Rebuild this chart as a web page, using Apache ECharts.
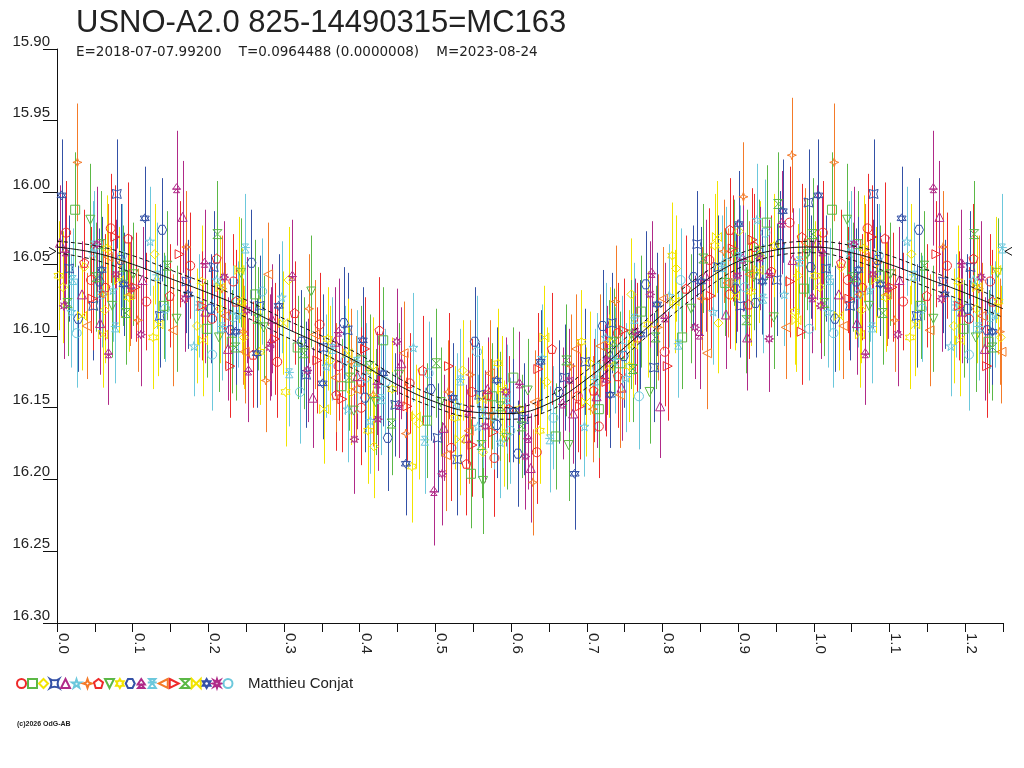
<!DOCTYPE html>
<html>
<head>
<meta charset="utf-8">
<script src="https://cdn.jsdelivr.net/npm/echarts@6/dist/echarts.min.js"></script>
<style>
  html, body { margin: 0; padding: 0; background: #fff; }
  #chart { width: 1024px; height: 768px; }
</style>
</head>
<body>
<div id="chart"></div>
<script>
// Phase diagram of USNO-A2.0 825-14490315 (MC163).
// Each observation: [phase, magnitude, error]. One array per symbol set.

const s00 = [[0.012,16.028,0.036],[0.071,16.025,0.038],[0.118,16.076,0.034],[0.176,16.051,0.037],[0.233,16.062,0.033],[0.291,16.118,0.039],[0.347,16.092,0.036],[0.402,16.150,0.040],[0.466,16.133,0.035],[0.521,16.178,0.037],[0.578,16.185,0.041],[0.634,16.181,0.036],[0.688,16.142,0.039],[0.741,16.098,0.035],[0.803,16.111,0.038],[0.862,16.047,0.036],[0.921,16.038,0.037],[0.968,16.021,0.039],
  [0.045,16.061,0.037],[0.205,16.088,0.036],[0.372,16.121,0.038],[0.548,16.139,0.037],[0.716,16.163,0.036],[0.889,16.071,0.038]];
const s01 = [[0.024,16.012,0.040],[0.087,16.058,0.035],[0.141,16.079,0.037],[0.198,16.095,0.034],[0.262,16.071,0.038],[0.318,16.108,0.036],[0.376,16.135,0.033],[0.431,16.103,0.037],[0.489,16.159,0.040],[0.547,16.196,0.038],[0.603,16.129,0.035],[0.659,16.170,0.037],[0.716,16.151,0.034],[0.772,16.083,0.039],[0.826,16.101,0.036],[0.883,16.063,0.037],[0.938,16.021,0.040],[0.987,16.067,0.035],
  [0.058,16.036,0.037],[0.231,16.104,0.036],[0.402,16.117,0.038],[0.575,16.142,0.037],[0.744,16.119,0.036],[0.912,16.051,0.039]];
const s02 = [[0.008,16.066,0.039],[0.063,16.082,0.037],[0.129,16.043,0.035],[0.185,16.093,0.040],[0.247,16.101,0.036],[0.306,16.061,0.037],[0.361,16.117,0.038],[0.419,16.177,0.036],[0.478,16.161,0.039],[0.536,16.124,0.035],[0.591,16.168,0.037],[0.647,16.132,0.038],[0.704,16.119,0.036],[0.759,16.071,0.039],[0.818,16.053,0.037],[0.874,16.091,0.035],[0.929,16.044,0.038],[0.979,16.058,0.036],
  [0.036,16.052,0.036],[0.215,16.081,0.038],[0.389,16.139,0.037],[0.563,16.181,0.036],[0.731,16.104,0.038],[0.901,16.027,0.037]];
const s03 = [[0.016,16.053,0.037],[0.079,16.001,0.038],[0.136,16.086,0.036],[0.207,16.052,0.039],[0.268,16.079,0.035],[0.329,16.127,0.037],[0.384,16.096,0.040],[0.447,16.148,0.036],[0.503,16.171,0.038],[0.558,16.141,0.036],[0.617,16.158,0.039],[0.671,16.129,0.037],[0.733,16.091,0.035],[0.789,16.122,0.038],[0.846,16.036,0.037],[0.903,16.079,0.036],[0.951,16.061,0.039],[0.993,16.007,0.037],
  [0.048,16.079,0.038],[0.171,16.062,0.036],[0.352,16.108,0.037],[0.529,16.186,0.039],[0.698,16.118,0.037],[0.874,16.052,0.036]];
const s04 = [[0.004,16.035,0.040],[0.057,16.091,0.036],[0.113,16.061,0.037],[0.166,16.017,0.039],[0.226,16.109,0.036],[0.284,16.088,0.038],[0.338,16.143,0.035],[0.397,16.128,0.037],[0.455,16.119,0.039],[0.511,16.164,0.037],[0.569,16.137,0.036],[0.626,16.192,0.038],[0.682,16.154,0.035],[0.746,16.136,0.037],[0.797,16.149,0.036],[0.857,16.058,0.039],[0.912,16.101,0.037],[0.972,16.047,0.036],
  [0.033,16.071,0.037],[0.196,16.083,0.036],[0.367,16.104,0.038],[0.541,16.171,0.037],[0.713,16.142,0.036],[0.884,16.085,0.038]];
const s05 = [[0.019,16.083,0.039],[0.074,16.068,0.036],[0.123,16.034,0.038],[0.181,16.107,0.035],[0.239,16.085,0.037],[0.297,16.073,0.039],[0.356,16.121,0.036],[0.414,16.159,0.037],[0.471,16.108,0.038],[0.529,16.148,0.036],[0.586,16.174,0.039],[0.641,16.115,0.037],[0.697,16.163,0.035],[0.752,16.129,0.038],[0.809,16.072,0.036],[0.867,16.083,0.037],[0.925,16.019,0.039],[0.961,16.071,0.036],
  [0.047,16.042,0.036],[0.211,16.061,0.038],[0.384,16.151,0.037],[0.556,16.163,0.036],[0.725,16.101,0.038],[0.896,16.061,0.037]];
const s06 = [[0.027,15.979,0.041],[0.061,16.071,0.038],[0.107,16.089,0.036],[0.171,16.038,0.039],[0.218,16.067,0.037],[0.276,16.131,0.036],[0.333,16.081,0.038],[0.389,16.118,0.037],[0.461,16.168,0.039],[0.517,16.139,0.036],[0.574,16.154,0.038],[0.629,16.202,0.037],[0.679,16.121,0.036],[0.738,16.076,0.039],[0.794,16.094,0.037],[0.852,16.074,0.036],[0.907,16.003,0.038],[0.971,15.974,0.040],
  [0.084,16.049,0.038],[0.246,16.097,0.037],[0.418,16.141,0.036],[0.546,16.127,0.038],[0.708,16.151,0.037],[0.881,16.041,0.036]];
const s07 = [[0.036,16.049,0.037],[0.094,16.032,0.039],[0.149,16.072,0.036],[0.211,16.046,0.038],[0.259,16.113,0.037],[0.314,16.084,0.036],[0.369,16.141,0.039],[0.426,16.096,0.037],[0.483,16.124,0.038],[0.541,16.189,0.036],[0.597,16.151,0.037],[0.654,16.109,0.039],[0.709,16.138,0.036],[0.767,16.101,0.038],[0.831,16.067,0.037],[0.889,16.026,0.036],[0.944,16.055,0.039],[0.984,16.031,0.037],
  [0.064,16.066,0.037],[0.236,16.076,0.036],[0.402,16.132,0.038],[0.569,16.141,0.037],[0.741,16.128,0.036],[0.914,16.078,0.038]];
const s08 = [[0.044,16.019,0.039],[0.101,16.057,0.036],[0.158,16.088,0.037],[0.214,16.101,0.038],[0.273,16.094,0.036],[0.336,16.069,0.039],[0.392,16.152,0.037],[0.452,16.127,0.036],[0.507,16.146,0.038],[0.563,16.201,0.037],[0.622,16.138,0.036],[0.676,16.176,0.039],[0.729,16.112,0.037],[0.783,16.139,0.036],[0.838,16.081,0.038],[0.894,16.042,0.037],[0.947,16.087,0.036],[0.991,16.043,0.039],
  [0.073,16.079,0.036],[0.243,16.056,0.038],[0.421,16.146,0.037],[0.594,16.171,0.036],[0.759,16.099,0.038],[0.921,16.059,0.037]];
const s09 = [[0.002,16.058,0.038],[0.066,16.039,0.037],[0.127,16.101,0.036],[0.191,16.062,0.039],[0.244,16.076,0.037],[0.302,16.139,0.038],[0.358,16.102,0.036],[0.411,16.166,0.037],[0.469,16.191,0.039],[0.526,16.157,0.036],[0.583,16.119,0.038],[0.638,16.166,0.037],[0.693,16.104,0.036],[0.756,16.121,0.039],[0.813,16.044,0.037],[0.869,16.037,0.036],[0.917,16.069,0.038],[0.975,16.083,0.037],
  [0.095,16.073,0.038],[0.268,16.111,0.037],[0.443,16.137,0.036],[0.611,16.151,0.038],[0.781,16.092,0.037],[0.948,16.037,0.036]];
const s10 = [[0.028,16.088,0.037],[0.084,16.047,0.039],[0.139,16.026,0.036],[0.203,16.081,0.038],[0.257,16.049,0.037],[0.323,16.104,0.036],[0.379,16.091,0.039],[0.437,16.171,0.037],[0.494,16.137,0.036],[0.552,16.104,0.038],[0.609,16.182,0.037],[0.663,16.139,0.036],[0.721,16.093,0.039],[0.778,16.064,0.037],[0.841,16.059,0.036],[0.897,16.067,0.038],[0.955,16.036,0.037],[0.996,16.052,0.036],
  [0.056,16.062,0.037],[0.229,16.096,0.036],[0.407,16.143,0.038],[0.581,16.162,0.037],[0.749,16.114,0.036],[0.923,16.077,0.038]];
const s11 = [[0.011,16.041,0.038],[0.068,16.112,0.036],[0.158,15.997,0.040],[0.195,16.049,0.037],[0.253,16.124,0.036],[0.311,16.058,0.039],[0.372,16.097,0.037],[0.423,16.133,0.036],[0.498,16.208,0.038],[0.543,16.152,0.037],[0.611,16.133,0.036],[0.668,16.147,0.039],[0.724,16.129,0.037],[0.786,16.056,0.036],[0.849,16.099,0.038],[0.906,16.046,0.037],[0.958,16.021,0.036],[0.998,16.073,0.039],
  [0.098,16.066,0.036],[0.283,16.104,0.038],[0.452,16.148,0.037],[0.622,16.171,0.036],[0.803,16.087,0.038],[0.941,16.056,0.037]];
const s12 = [[0.021,16.061,0.036],[0.077,16.094,0.039],[0.132,16.058,0.037],[0.188,16.079,0.036],[0.249,16.039,0.038],[0.307,16.126,0.037],[0.364,16.109,0.036],[0.428,16.144,0.039],[0.486,16.173,0.037],[0.533,16.131,0.036],[0.594,16.144,0.038],[0.651,16.172,0.037],[0.711,16.131,0.036],[0.763,16.088,0.039],[0.821,16.106,0.037],[0.879,16.052,0.036],[0.933,16.074,0.038],[0.981,16.048,0.037],
  [0.049,16.037,0.038],[0.218,16.094,0.037],[0.396,16.118,0.036],[0.563,16.154,0.038],[0.737,16.117,0.037],[0.902,16.045,0.036]];
const s13 = [[0.039,16.093,0.037],[0.097,16.071,0.036],[0.153,16.096,0.039],[0.222,16.086,0.037],[0.279,16.057,0.036],[0.341,16.099,0.038],[0.395,16.137,0.037],[0.458,16.112,0.036],[0.514,16.183,0.039],[0.572,16.126,0.037],[0.631,16.146,0.036],[0.686,16.109,0.038],[0.744,16.141,0.037],[0.801,16.074,0.036],[0.859,16.112,0.039],[0.915,16.057,0.037],[0.963,16.094,0.036],[0.989,16.035,0.038],
  [0.068,16.045,0.037],[0.248,16.111,0.036],[0.368,16.129,0.038],[0.544,16.166,0.037],[0.718,16.107,0.036],[0.886,16.063,0.038]];
const s14 = [[0.047,16.074,0.036],[0.104,16.066,0.038],[0.162,16.043,0.037],[0.229,16.121,0.036],[0.288,16.102,0.039],[0.344,16.117,0.037],[0.407,16.109,0.036],[0.463,16.149,0.038],[0.518,16.121,0.037],[0.577,16.167,0.036],[0.636,16.123,0.039],[0.691,16.149,0.037],[0.749,16.096,0.036],[0.807,16.121,0.038],[0.864,16.072,0.037],[0.919,16.033,0.036],[0.969,16.062,0.039],[0.984,16.097,0.037],
  [0.077,16.031,0.036],[0.192,16.079,0.038],[0.377,16.144,0.037],[0.549,16.176,0.036],[0.726,16.132,0.038],[0.893,16.039,0.037]];
const s15 = [[0.014,16.077,0.037],[0.091,16.084,0.036],[0.146,16.051,0.038],[0.212,16.029,0.037],[0.265,16.088,0.036],[0.326,16.112,0.039],[0.386,16.129,0.037],[0.442,16.161,0.036],[0.501,16.119,0.038],[0.561,16.176,0.037],[0.614,16.163,0.036],[0.673,16.117,0.039],[0.736,16.104,0.037],[0.791,16.101,0.036],[0.854,16.046,0.038],[0.911,16.089,0.037],[0.953,16.008,0.036],[0.999,16.029,0.039],
  [0.052,16.059,0.038],[0.236,16.108,0.037],[0.413,16.121,0.036],[0.586,16.149,0.038],[0.761,16.123,0.037],[0.927,16.041,0.036]];
const s16 = [[0.033,16.086,0.038],[0.082,16.061,0.037],[0.134,16.092,0.036],[0.193,16.103,0.039],[0.241,16.054,0.037],[0.299,16.091,0.036],[0.353,16.151,0.038],[0.417,16.124,0.037],[0.474,16.156,0.036],[0.532,16.172,0.039],[0.588,16.137,0.037],[0.644,16.101,0.036],[0.699,16.146,0.038],[0.761,16.106,0.037],[0.816,16.076,0.036],[0.872,16.031,0.039],[0.927,16.054,0.037],[0.977,16.089,0.036],
  [0.061,16.099,0.037],[0.216,16.066,0.036],[0.384,16.112,0.038],[0.561,16.144,0.037],[0.729,16.121,0.036],[0.896,16.072,0.038]];
const s17 = [[0.006,16.002,0.039],[0.059,16.054,0.037],[0.116,16.018,0.036],[0.173,16.071,0.038],[0.236,16.097,0.037],[0.293,16.079,0.036],[0.351,16.133,0.039],[0.404,16.103,0.037],[0.461,16.189,0.036],[0.523,16.143,0.038],[0.581,16.131,0.037],[0.639,16.118,0.036],[0.684,16.196,0.039],[0.731,16.141,0.037],[0.793,16.078,0.036],[0.851,16.062,0.038],[0.901,16.022,0.037],[0.959,16.013,0.036],
  [0.088,16.064,0.036],[0.264,16.112,0.038],[0.431,16.126,0.037],[0.603,16.152,0.036],[0.771,16.099,0.038],[0.932,16.062,0.037]];
const s18 = [[0.009,16.079,0.037],[0.053,16.036,0.040],[0.111,16.099,0.036],[0.169,16.074,0.037],[0.221,16.059,0.039],[0.281,16.108,0.037],[0.331,16.124,0.036],[0.393,16.172,0.038],[0.449,16.104,0.037],[0.509,16.196,0.036],[0.566,16.163,0.039],[0.619,16.184,0.037],[0.677,16.131,0.036],[0.727,16.117,0.038],[0.784,16.071,0.037],[0.843,16.094,0.036],[0.899,16.058,0.039],[0.941,16.102,0.037],
  [0.078,16.057,0.038],[0.251,16.082,0.037],[0.424,16.158,0.036],[0.593,16.139,0.038],[0.764,16.097,0.037],[0.929,16.046,0.036]];
const s19 = [[0.026,16.098,0.038],[0.086,16.044,0.036],[0.143,16.081,0.037],[0.205,16.113,0.039],[0.271,16.069,0.037],[0.321,16.139,0.036],[0.381,16.117,0.038],[0.434,16.132,0.037],[0.491,16.126,0.036],[0.555,16.111,0.039],[0.599,16.166,0.037],[0.656,16.157,0.036],[0.714,16.122,0.038],[0.769,16.142,0.037],[0.824,16.061,0.036],[0.884,16.049,0.039],[0.936,16.028,0.037],[0.994,16.095,0.036],
  [0.059,16.071,0.037],[0.233,16.087,0.036],[0.408,16.129,0.038],[0.577,16.156,0.037],[0.747,16.108,0.036],[0.909,16.066,0.038]];

// fitted light curve (solid) and its uncertainty envelope (dashed)
const fitPhase = [0.00,0.05,0.10,0.15,0.20,0.25,0.30,0.35,0.40,0.45,0.50,0.55,0.60,0.65,0.70,0.75,0.80,0.85,0.90,0.95,1.00,1.05,1.10,1.15,1.20,1.25];
const fitMag   = [16.038,16.042,16.050,16.060,16.070,16.081,16.094,16.106,16.119,16.134,16.146,16.153,16.154,16.147,16.130,16.108,16.085,16.064,16.048,16.040,16.038,16.042,16.050,16.060,16.070,16.081];
const fitUpper = [16.034,16.037,16.044,16.054,16.064,16.075,16.088,16.100,16.113,16.129,16.142,16.149,16.150,16.142,16.124,16.102,16.079,16.058,16.043,16.036,16.034,16.037,16.044,16.054,16.064,16.075];
const fitLower = [16.042,16.047,16.056,16.066,16.076,16.087,16.100,16.112,16.125,16.139,16.150,16.157,16.158,16.152,16.136,16.114,16.091,16.070,16.053,16.044,16.042,16.047,16.056,16.066,16.076,16.087];
const meanMag = 16.041;

const yTicks = [15.90, 15.95, 16.00, 16.05, 16.10, 16.15, 16.20, 16.25, 16.30];
const xLabels = ['0.0','0.1','0.2','0.3','0.4','0.5','0.6','0.7','0.8','0.9','1.0','1.1','1.2'];

const title = 'USNO-A2.0 825-14490315=MC163';
const subtitle = 'E=2018-07-07.99200    T=0.0964488 (0.0000008)    M=2023-08-24';
const observer = 'Matthieu Conjat';
const footer = '(c)2026 OdG-AB';

const sets = [s00,s01,s02,s03,s04,s05,s06,s07,s08,s09,s10,s11,s12,s13,s14,s15,s16,s17,s18,s19];

const palette = ['#ee2a2a','#5bb846','#f2e400','#3451a6','#b02a88','#6cc8dc','#f47b29'];
const symbols = [
  'circle',
  'rect',
  'diamond',
  'path://M0,0 Q5,3 10,0 Q7,5 10,10 Q5,7 0,10 Q3,5 0,0 Z',
  'triangle',
  'path://M5,0 L6.2,3.6 L10,3.6 L6.9,5.9 L8.1,9.5 L5,7.3 L1.9,9.5 L3.1,5.9 L0,3.6 L3.8,3.6 Z',
  'path://M5,0 L6.3,3.7 L10,5 L6.3,6.3 L5,10 L3.7,6.3 L0,5 L3.7,3.7 Z',
  'path://M5,0 L10,3.8 L8.1,10 L1.9,10 L0,3.8 Z',
  'path://M0,0 L10,0 L5,10 Z',
  'path://M5,0 L6.4,2.5 L9.3,2.5 L7.9,5 L9.3,7.5 L6.4,7.5 L5,10 L3.6,7.5 L0.7,7.5 L2.1,5 L0.7,2.5 L3.6,2.5 Z',
  'path://M2.5,0 L7.5,0 L10,5 L7.5,10 L2.5,10 L0,5 Z',
  'path://M5,0 L9,6 L1,6 Z M0,6 L10,6 M5,6 L1.5,10 L8.5,10 Z',
  'path://M1.5,0 L8.5,0 L5,4 Z M0,4 L10,4 M5,4 L9,10 L1,10 Z',
  'path://M10,0 L0,5 L10,10 Z',
  'path://M0,0 L10,5 L0,10 Z',
  'path://M0,0 L10,0 L0,10 L10,10 Z',
  'path://M0,0 L0,10 L10,0 L10,10 Z',
  'path://M5,0 L9.3,7.5 L0.7,7.5 Z M5,10 L0.7,2.5 L9.3,2.5 Z',
  'path://M5,0 L6,3 L8.5,1.5 L7,4 L10,5 L7,6 L8.5,8.5 L6,7 L5,10 L4,7 L1.5,8.5 L3,6 L0,5 L3,4 L1.5,1.5 L4,3 Z',
  'circle'
];

const FONT = '"Liberation Sans", Arial, sans-serif';

// the plot repeats phases 0..0.25 after 1.0
function withRepeat(pts) {
  return pts.concat(pts.filter(p => p[0] < 0.25).map(p => [p[0] + 1, p[1], p[2]]));
}

const series = [];
sets.forEach((pts, i) => {
  const color = palette[i % palette.length];
  const data = withRepeat(pts);
  series.push({
    type: 'custom',
    name: 'err' + i,
    data: data,
    encode: { x: 0, y: 1 },
    silent: true,
    renderItem: function (params, api) {
      const x = api.value(0), y = api.value(1), e = api.value(2);
      const a = api.coord([x, y - e]);
      const b = api.coord([x, y + e]);
      const px = Math.round(a[0]) + 0.5;
      return {
        type: 'line',
        shape: { x1: px, y1: a[1], x2: px, y2: b[1] },
        style: { stroke: color, lineWidth: 1 }
      };
    }
  });
  series.push({
    type: 'scatter',
    name: 'set' + i,
    data: data.map(p => [p[0], p[1]]),
    symbol: symbols[i],
    symbolSize: 9,
    itemStyle: { color: 'rgba(255,255,255,0)', borderColor: color, borderWidth: 1, opacity: 1 },
    emphasis: { disabled: true }
  });
});

function fitLine(name, values, dashed) {
  return {
    type: 'line',
    name: name,
    data: fitPhase.map((p, k) => [p, values[k]]),
    smooth: 0.4,
    symbol: 'none',
    silent: true,
    z: 5,
    lineStyle: { color: '#111', width: 1, type: dashed ? [4, 3] : 'solid' }
  };
}
series.push(fitLine('fit', fitMag, false));
series.push(fitLine('fitUp', fitUpper, true));
series.push(fitLine('fitLo', fitLower, true));

// mean magnitude markers on both sides of the plot
series.push({
  type: 'custom',
  name: 'mean',
  data: [[0, meanMag]],
  encode: { x: 0, y: 1 },
  silent: true,
  clip: false,
  z: 6,
  renderItem: function (params, api) {
    const l = api.coord([0, meanMag]);
    const r = api.coord([1.25, meanMag]);
    return {
      type: 'group',
      children: [
        { type: 'polyline', shape: { points: [[l[0] - 8, l[1] - 4], [l[0] - 1, l[1]], [l[0] - 8, l[1] + 4]] }, style: { stroke: '#111', fill: null, lineWidth: 1 } },
        { type: 'polyline', shape: { points: [[r[0] + 9, r[1] - 4], [r[0] + 2, r[1]], [r[0] + 9, r[1] + 4]] }, style: { stroke: '#111', fill: null, lineWidth: 1 } }
      ]
    };
  }
});

// phase labels, rotated and set just right of their ticks
series.push({
  type: 'custom',
  name: 'phaseLabels',
  data: xLabels.map(s => [parseFloat(s), 16.3]),
  encode: { x: 0, y: 1 },
  silent: true,
  clip: false,
  renderItem: function (params, api) {
    const p = api.coord([api.value(0), 16.3]);
    return {
      type: 'text',
      x: Math.round(p[0]) + 6,
      y: p[1] + 10,
      rotation: -Math.PI / 2,
      style: {
        text: xLabels[params.dataIndex],
        font: '15px ' + FONT,
        fill: '#222',
        align: 'left',
        verticalAlign: 'middle'
      }
    };
  }
});

const chart = echarts.init(document.getElementById('chart'), null, { renderer: 'canvas' });
chart.setOption({
  backgroundColor: '#fff',
  animation: false,
  textStyle: { fontFamily: FONT },
  title: [
    { text: title, left: 71, top: 3, textStyle: { fontSize: 31, fontWeight: 'normal', color: '#222', fontFamily: FONT } },
    { text: subtitle, left: 71, top: 40, textStyle: { fontSize: 13.5, fontWeight: 'normal', color: '#222', fontFamily: '"DejaVu Sans", sans-serif' } }
  ],
  grid: { left: 57, right: 21, top: 49, bottom: 145, containLabel: false },
  xAxis: {
    type: 'value',
    min: 0, max: 1.25, interval: 0.05,
    splitLine: { show: false },
    axisLine: { lineStyle: { color: '#111', width: 1 } },
    axisTick: { length: 9, lineStyle: { color: '#111' } },
    axisLabel: { show: false }
  },
  yAxis: {
    type: 'value',
    inverse: true,
    min: 15.9, max: 16.3, interval: 0.05,
    splitLine: { show: false },
    axisLine: { show: true, lineStyle: { color: '#111', width: 1 } },
    axisTick: { show: true, length: 14, lineStyle: { color: '#111' } },
    axisLabel: {
      fontSize: 15,
      color: '#222',
      margin: 7,
      verticalAlign: 'bottom',
      formatter: function (v) {
        const t = yTicks.find(t => Math.abs(t - v) < 1e-6);
        return (t === undefined ? v : t).toFixed(2);
      }
    }
  },
  legend: {
    data: sets.map((_, i) => 'set' + i),
    left: 16, top: 678, padding: 0,
    itemWidth: 9, itemHeight: 9, itemGap: 0,
    selectedMode: false,
    formatter: function () { return ''; },
    textStyle: { fontSize: 1 }
  },
  graphic: [
    { type: 'text', left: 248, top: 676, style: { text: observer, font: '15px ' + FONT, fill: '#222' } },
    { type: 'text', left: 17, top: 721, style: { text: footer, font: 'bold 7px ' + FONT, fill: '#222' } }
  ],
  series: series
});
</script>
</body>
</html>
